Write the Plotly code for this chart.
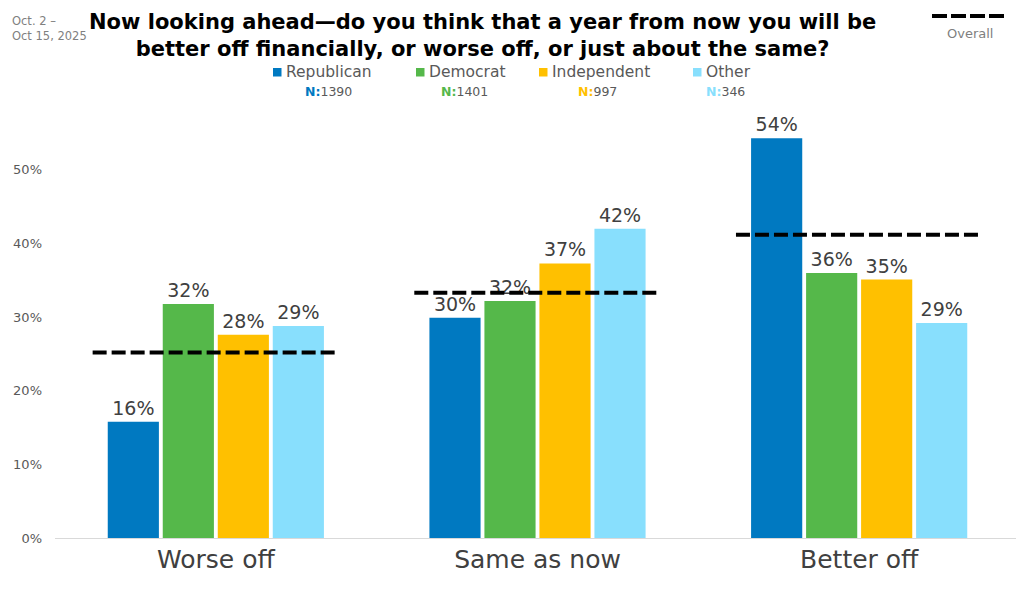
import plotly.graph_objects as go

categories = ["Worse off", "Same as now", "Better off"]
groups = ["Republican", "Democrat", "Independent", "Other"]
group_n = [1390, 1401, 997, 346]
colors = ["#0079C1", "#55B84A", "#FFC000", "#88DFFD"]
values = {
    "Republican": [15.8, 29.9, 54.3],
    "Democrat": [31.8, 32.2, 36.0],
    "Independent": [27.6, 37.3, 35.1],
    "Other": [28.8, 42.0, 29.2],
}
overall = [25.2, 33.3, 41.2]
y_ticks = [0, 10, 20, 30, 40, 50]

FONT = "DejaVu Sans"
OFF = 8  # page body margin
W, H = 1024 - OFF, 590 - OFF
L, R, T, B = 55 - OFF, 4, 111 - OFF, 52
PW, PH = W - L - R, H - T - B


def px(x):
    return (x - OFF - L) / PW


def py(y):
    return (H - B - (y - OFF)) / PH


xs = list(range(len(categories)))
fig = go.Figure()
for g, c in zip(groups, colors):
    fig.add_trace(go.Bar(
        x=xs, y=values[g], name=g, marker=dict(color=c, line=dict(width=0)),
        texttemplate="%{y:.0f}%", textposition="outside",
        textfont=dict(family=FONT, size=19, color="#404040"),
        cliponaxis=False, showlegend=False,
    ))

half = 0.383
for i, v in enumerate(overall):
    fig.add_trace(go.Scatter(
        x=[xs[i] - half, xs[i] + half], y=[v, v], mode="lines",
        line=dict(color="black", width=4, dash="14px,5px"),
        showlegend=False, hoverinfo="skip",
    ))

annotations = []
shapes = []
# title
annotations.append(dict(
    text="<b>Now looking ahead—do you think that a year from now you will be<br>better off financially, or worse off, or just about the same?</b>",
    xref="paper", yref="paper", x=px(482), y=py(35), xanchor="center", yanchor="middle",
    showarrow=False, font=dict(family=FONT, size=21, color="#000000"), align="center",
    borderpad=0,
))
# date
annotations.append(dict(
    text="Oct. 2 –<br>Oct 15, 2025", xref="paper", yref="paper", x=px(11), y=py(28),
    xanchor="left", yanchor="middle", showarrow=False, align="left", borderpad=0,
    font=dict(family=FONT, size=11.5, color="#808080"),
))
# overall legend
shapes.append(dict(type="line", xref="paper", yref="paper", x0=px(932), x1=px(1008),
                   y0=py(16), y1=py(16), line=dict(color="black", width=4, dash="15px,4px")))
annotations.append(dict(text="Overall", xref="paper", yref="paper", x=px(970), y=py(33),
                        xanchor="center", yanchor="middle", showarrow=False,
                        font=dict(family=FONT, size=13, color="#7f7f7f")))
# series legend
sq_x = [273, 416, 539, 693]
n_x = [328, 464, 597, 725]
for g, c, n, sx, nx in zip(groups, colors, group_n, sq_x, n_x):
    shapes.append(dict(type="rect", xref="paper", yref="paper", x0=px(sx), x1=px(sx + 8.5),
                       y0=py(68), y1=py(76.5), fillcolor=c, line=dict(width=0)))
    annotations.append(dict(text=g, xref="paper", yref="paper", x=px(sx + 12), y=py(72),
                            xanchor="left", yanchor="middle", showarrow=False, borderpad=0,
                            font=dict(family=FONT, size=15.5, color="#595959")))
    annotations.append(dict(
        text=f"<b><span style='color:{c}'>N:</span></b>{n}", xref="paper", yref="paper",
        x=px(nx), y=py(92), xanchor="center", yanchor="middle", showarrow=False, borderpad=0,
        font=dict(family=FONT, size=12.5, color="#595959")))

fig.update_layout(
    width=W, height=H, margin=dict(l=L, r=R, t=T, b=B),
    paper_bgcolor="white", plot_bgcolor="white",
    barmode="group", bargap=0.316, bargroupgap=0.07,
    annotations=annotations, shapes=shapes, showlegend=False,
    font=dict(family=FONT),
    xaxis=dict(tickvals=xs, ticktext=categories, range=[-0.5, 2.5],
               showline=True, linecolor="#d9d9d9", linewidth=1, showgrid=False,
               zeroline=False, ticks="", ticklabelstandoff=-1,
               tickfont=dict(family=FONT, size=25, color="#404040")),
    yaxis=dict(range=[0, 58], tickvals=y_ticks, ticktext=[f"{t}%" for t in y_ticks],
               showgrid=False, zeroline=False, showline=False, ticks="",
               ticklabelstandoff=12, tickfont=dict(family=FONT, size=13, color="#595959")),
)

fig.write_html("out.html")
